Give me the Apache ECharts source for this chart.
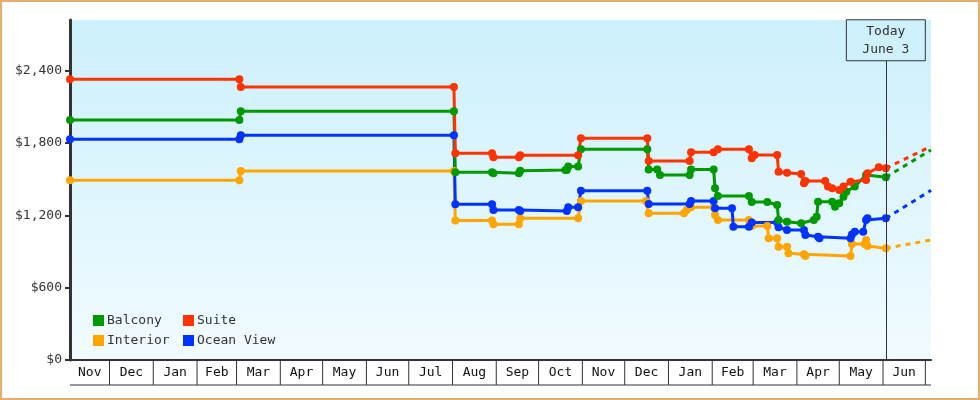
<!DOCTYPE html>
<html>
<head>
<meta charset="utf-8">
<title>Cabin prices</title>
<script src="https://cdn.jsdelivr.net/npm/echarts@6/dist/echarts.min.js"></script>
<style>
  html, body { margin: 0; padding: 0; background: #fff; }
  #wrap { position: relative; width: 980px; height: 400px; }
  #chart { position: absolute; left: 0; top: 0; width: 980px; height: 400px; }
  #frame { position: absolute; left: 0; top: 0; width: 980px; height: 400px;
           box-sizing: border-box; border: 2px solid #e8ac6c; pointer-events: none; }
</style>
</head>
<body>
<div id="wrap">
  <div id="chart"></div>
  <div id="frame"></div>
</div>
<script>
// axis range and the "today" marker
var xMin = '2022-11-03';
var xMax = '2024-07-05';
var today = '2024-06-03';
var yTicks = [0, 600, 1200, 1800, 2400];

// month cells under the x axis (last start closes the final cell)
var monthLabels = ['Nov', 'Dec', 'Jan', 'Feb', 'Mar', 'Apr', 'May', 'Jun', 'Jul', 'Aug',
                   'Sep', 'Oct', 'Nov', 'Dec', 'Jan', 'Feb', 'Mar', 'Apr', 'May', 'Jun', 'Jul'];
var monthStarts = ['2022-11-01', '2022-12-01', '2023-01-01', '2023-02-01', '2023-03-01',
                   '2023-04-01', '2023-05-01', '2023-06-01', '2023-07-01', '2023-08-01',
                   '2023-09-01', '2023-10-01', '2023-11-01', '2023-12-01', '2024-01-01',
                   '2024-02-01', '2024-03-01', '2024-04-01', '2024-05-01', '2024-06-01',
                   '2024-07-01', '2024-08-01'];

// price history, [date, price]
var balconyData = [
  ['2022-11-03', 1991], ['2023-03-03', 1991], ['2023-03-04', 2063], ['2023-08-02', 2063],
  ['2023-08-03', 1557], ['2023-08-29', 1557], ['2023-08-30', 1549], ['2023-09-17', 1549],
  ['2023-09-18', 1570], ['2023-10-20', 1576], ['2023-10-21', 1576], ['2023-10-22', 1604],
  ['2023-10-29', 1604], ['2023-10-31', 1748], ['2023-12-17', 1748], ['2023-12-18', 1581],
  ['2023-12-24', 1581], ['2023-12-26', 1535], ['2024-01-16', 1535], ['2024-01-17', 1581],
  ['2024-02-02', 1581], ['2024-02-03', 1424], ['2024-02-05', 1361], ['2024-02-27', 1361],
  ['2024-02-29', 1310], ['2024-03-11', 1310], ['2024-03-18', 1286], ['2024-03-19', 1161],
  ['2024-03-25', 1147], ['2024-04-04', 1134], ['2024-04-13', 1161], ['2024-04-15', 1189],
  ['2024-04-16', 1313], ['2024-04-26', 1313], ['2024-04-28', 1272], ['2024-05-01', 1300],
  ['2024-05-04', 1355], ['2024-05-06', 1396], ['2024-05-12', 1440], ['2024-05-20', 1535],
  ['2024-06-03', 1516]
];
var suiteData = [
  ['2022-11-03', 2329], ['2023-03-03', 2329], ['2023-03-04', 2265], ['2023-08-02', 2265],
  ['2023-08-03', 1714], ['2023-08-29', 1714], ['2023-08-30', 1681], ['2023-09-17', 1681],
  ['2023-09-18', 1698], ['2023-10-29', 1698], ['2023-10-31', 1840], ['2023-12-17', 1840],
  ['2023-12-18', 1651], ['2024-01-16', 1651], ['2024-01-17', 1723], ['2024-02-02', 1723],
  ['2024-02-05', 1748], ['2024-02-27', 1748], ['2024-02-29', 1673], ['2024-03-02', 1700],
  ['2024-03-18', 1700], ['2024-03-19', 1562], ['2024-03-25', 1554], ['2024-04-04', 1543],
  ['2024-04-06', 1466], ['2024-04-07', 1485], ['2024-04-21', 1485], ['2024-04-23', 1438],
  ['2024-04-26', 1424], ['2024-05-01', 1410], ['2024-05-04', 1438], ['2024-05-09', 1479],
  ['2024-05-20', 1493], ['2024-05-21', 1549], ['2024-05-29', 1599], ['2024-06-03', 1590]
];
var interiorData = [
  ['2022-11-03', 1491], ['2023-03-03', 1491], ['2023-03-04', 1568], ['2023-08-02', 1568],
  ['2023-08-03', 1156], ['2023-08-29', 1156], ['2023-08-30', 1126], ['2023-09-17', 1126],
  ['2023-09-18', 1176], ['2023-10-29', 1176], ['2023-10-31', 1319], ['2023-12-16', 1319],
  ['2023-12-18', 1217], ['2024-01-12', 1217], ['2024-01-14', 1244], ['2024-01-17', 1267],
  ['2024-02-02', 1267], ['2024-02-03', 1203], ['2024-02-05', 1161], ['2024-02-27', 1161],
  ['2024-02-29', 1112], ['2024-03-11', 1112], ['2024-03-12', 1009], ['2024-03-18', 1009],
  ['2024-03-19', 940], ['2024-03-25', 940], ['2024-03-26', 885], ['2024-04-06', 877],
  ['2024-04-07', 863], ['2024-05-09', 863], ['2024-05-10', 962], ['2024-05-19', 962],
  ['2024-05-20', 995], ['2024-05-21', 945], ['2024-06-03', 927]
];
var oceanData = [
  ['2022-11-03', 1831], ['2023-03-03', 1831], ['2023-03-04', 1864], ['2023-08-02', 1864],
  ['2023-08-03', 1292], ['2023-08-29', 1292], ['2023-08-30', 1244], ['2023-09-17', 1244],
  ['2023-09-18', 1236], ['2023-10-21', 1236], ['2023-10-22', 1267], ['2023-10-29', 1267],
  ['2023-10-31', 1403], ['2023-12-17', 1403], ['2023-12-18', 1294], ['2024-01-16', 1294],
  ['2024-01-17', 1319], ['2024-02-02', 1319], ['2024-02-03', 1258], ['2024-02-15', 1258],
  ['2024-02-16', 1106], ['2024-02-27', 1106], ['2024-02-29', 1140], ['2024-03-18', 1140],
  ['2024-03-19', 1101], ['2024-03-25', 1078], ['2024-04-06', 1078], ['2024-04-07', 1037],
  ['2024-04-16', 1023], ['2024-04-17', 1009], ['2024-05-09', 1009], ['2024-05-10', 1040],
  ['2024-05-12', 1064], ['2024-05-18', 1064], ['2024-05-20', 1161], ['2024-05-21', 1175],
  ['2024-06-03', 1175]
];

// projected prices at the right end of the axis
var balconyForecast = 1742;
var suiteForecast = 1772;
var interiorForecast = 995;
var oceanForecast = 1407;

var colors = { Balcony: '#009900', Suite: '#ff3300', Interior: '#ffa500', 'Ocean View': '#0033ff' };
var FONT = '"DejaVu Sans Mono", "Liberation Mono", monospace';

var minTs = echarts.number.parseDate(xMin).getTime();
var maxTs = echarts.number.parseDate(xMax).getTime();

function priceSeries(name, data) {
  return {
    name: name,
    type: 'line',
    data: data,
    color: colors[name],
    lineStyle: { width: 3, color: colors[name] },
    itemStyle: { color: colors[name] },
    symbol: 'circle',
    symbolSize: 8,
    showSymbol: true,
    z: 3
  };
}

function forecastSeries(name, data, endValue) {
  var last = data[data.length - 1];
  return {
    name: name,
    type: 'line',
    data: [last, [xMax, endValue]],
    color: colors[name],
    lineStyle: { width: 3, type: [5, 5], color: colors[name] },
    showSymbol: false,
    z: 2
  };
}

var monthCells = {
  type: 'custom',
  silent: true,
  clip: false,
  data: monthLabels.map(function (m, i) { return [monthStarts[i], 0]; }),
  renderItem: function (params, api) {
    var i = params.dataIndex;
    var s = echarts.number.parseDate(monthStarts[i]).getTime();
    var e = echarts.number.parseDate(monthStarts[i + 1]).getTime();
    var x0 = api.coord([Math.max(s, minTs), 0])[0];
    var x1 = api.coord([Math.min(e, maxTs), 0])[0];
    var y0 = api.coord([minTs, 0])[1];
    var kids = [];
    if (s >= minTs) {
      kids.push({ type: 'line', shape: { x1: x0, y1: y0, x2: x0, y2: y0 + 25 },
                  style: { stroke: '#333', lineWidth: 1 } });
    }
    kids.push({ type: 'line', shape: { x1: x0, y1: y0 + 25, x2: x1, y2: y0 + 25 },
                style: { stroke: '#333', lineWidth: 1 } });
    if (x1 - x0 > 24) {
      kids.push({ type: 'text', style: { text: monthLabels[i], x: (x0 + x1) / 2, y: y0 + 13,
                  align: 'center', verticalAlign: 'middle', fontFamily: FONT, fontSize: 13, fill: '#111' } });
    }
    return { type: 'group', children: kids };
  }
};

var todayLine = forecastSeries('Suite', suiteData, suiteForecast);
todayLine.markLine = {
  silent: true,
  symbol: ['none', 'none'],
  lineStyle: { color: '#333', width: 1, type: 'solid' },
  label: {
    show: true,
    position: 'end',
    distance: 0,
    formatter: 'Today\nJune 3',
    fontFamily: FONT,
    fontSize: 13,
    lineHeight: 18,
    color: '#333',
    borderColor: '#333',
    borderWidth: 1,
    padding: [3, 16, 2, 16]
  },
  data: [[{ coord: [today, 0] }, { coord: [today, 2482] }]]
};

var legendText = { fontFamily: FONT, fontSize: 13, color: '#333', padding: [0, 0, 0, -2] };

var chart = echarts.init(document.getElementById('chart'));
chart.setOption({
  animation: false,
  grid: {
    left: 70, right: 49, top: 20, bottom: 40,
    show: true,
    borderWidth: 0,
    backgroundColor: new echarts.graphic.LinearGradient(0, 0, 0, 1, [
      { offset: 0, color: '#ccf0fc' },
      { offset: 1, color: '#f1fbff' }
    ])
  },
  legend: [
    { data: ['Balcony', 'Interior'], orient: 'vertical', left: 93, top: 314, padding: 0,
      icon: 'rect', itemWidth: 11, itemHeight: 11, itemGap: 7, textStyle: legendText },
    { data: ['Suite', 'Ocean View'], orient: 'vertical', left: 183, top: 314, padding: 0,
      icon: 'rect', itemWidth: 11, itemHeight: 11, itemGap: 7, textStyle: legendText }
  ],
  xAxis: {
    type: 'time',
    min: minTs,
    max: maxTs,
    axisLine: { show: true, lineStyle: { color: '#333', width: 2 } },
    axisTick: { show: false },
    axisLabel: { show: false },
    splitLine: { show: false }
  },
  yAxis: {
    type: 'value',
    min: 0,
    max: 2820,
    interval: 600,
    axisLine: { show: true, lineStyle: { color: '#333', width: 3 } },
    axisTick: { show: true, length: 5, customValues: yTicks, lineStyle: { color: '#333', width: 2 } },
    axisLabel: {
      margin: 8,
      fontFamily: FONT,
      fontSize: 13,
      color: '#333',
      customValues: yTicks,
      formatter: function (v) { return '$' + v.toLocaleString('en-US'); }
    },
    splitLine: { show: false }
  },
  series: [
    monthCells,
    forecastSeries('Interior', interiorData, interiorForecast),
    forecastSeries('Ocean View', oceanData, oceanForecast),
    forecastSeries('Balcony', balconyData, balconyForecast),
    todayLine,
    priceSeries('Interior', interiorData),
    priceSeries('Ocean View', oceanData),
    priceSeries('Balcony', balconyData),
    priceSeries('Suite', suiteData)
  ]
});
</script>
</body>
</html>
